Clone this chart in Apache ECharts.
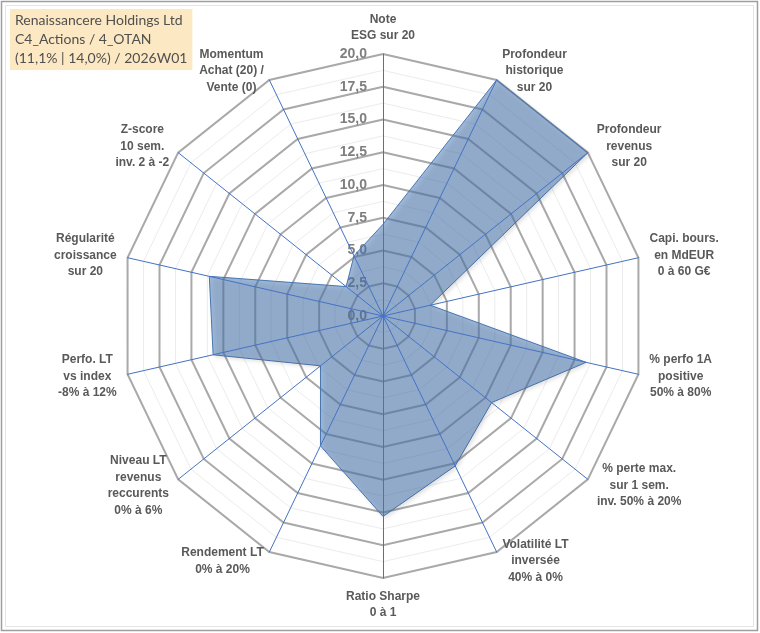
<!DOCTYPE html>
<html>
<head>
<meta charset="utf-8">
<script src="https://cdn.jsdelivr.net/npm/echarts@6/dist/echarts.min.js"></script>
<style>
  html, body { margin: 0; padding: 0; background: #fff; }
  #chart { width: 760px; height: 633px; }
</style>
</head>
<body>
<div id="chart"></div>
<script>
// axes, clockwise from the top
const axisNames = [
  'Note\nESG sur 20',
  'Profondeur\nhistorique\nsur 20',
  'Profondeur\nrevenus\nsur 20',
  'Capi. bours.\nen MdEUR\n0 à 60 G€',
  '% perfo 1A\npositive\n50% à 80%',
  '% perte max.\nsur 1 sem.\ninv. 50% à 20%',
  'Volatilité LT\ninversée\n40% à 0%',
  'Ratio Sharpe\n0 à 1',
  'Rendement LT\n0% à 20%',
  'Niveau LT\nrevenus\nreccurents\n0% à 6%',
  'Perfo. LT\nvs index\n-8% à 12%',
  'Régularité\ncroissance\nsur 20',
  'Z-score\n10 sem.\ninv. 2 à -2',
  'Momentum\nAchat (20) /\nVente (0)'
];
const scores = [7.0, 20, 20, 3.7, 15.9, 10.6, 12.7, 15.3, 11.0, 6.1, 13.3, 13.6, 3.6, 5.1];
const scaleMax = 20;
const tickStep = 2.5;
const titleLines = ['Renaissancere Holdings Ltd', 'C4_Actions / 4_OTAN', '(11,1% | 14,0%) / 2026W01'];

const cx = 383, cy = 316, R = 262;
const nameFont = { fontFamily: 'Liberation Sans', fontWeight: 'bold', fontSize: 12, lineHeight: 16.5, color: '#595959' };

// echarts lays radar axes out counter-clockwise, so flip everything after the first
const order = [0].concat(axisNames.map((_, i) => i).slice(1).reverse());
const indicators = order.map((i) => ({ name: axisNames[i], min: 0, max: scaleMax }));
const values = order.map((i) => scores[i]);
const blankIndicators = order.map(() => ({ name: '', min: 0, max: scaleMax }));

// each axis name is a block as wide as its longest line, lines centred inside it
const ctx = document.createElement('canvas').getContext('2d');
ctx.font = 'bold 12px "Liberation Sans"';
const rich = {};
axisNames.forEach((name, i) => {
  const w = Math.max(...name.split('\n').map((l) => ctx.measureText(l).width));
  rich['w' + i] = Object.assign({ width: Math.ceil(w) + 2, align: 'center' }, nameFont);
});

const myChart = echarts.init(document.getElementById('chart'), null, { renderer: 'canvas' });

const baseRadar = {
  center: [cx, cy],
  radius: R,
  startAngle: 90,
  shape: 'polygon',
  splitArea: { show: false },
  axisTick: { show: false },
  axisLabel: { show: false }
};

myChart.setOption({
  animation: false,
  backgroundColor: '#fff',
  title: {
    text: titleLines.join('\n'),
    left: 10,
    top: 9,
    padding: [2, 5, 2, 5],
    backgroundColor: '#fce8c2',
    textStyle: {
      fontFamily: 'Lato',
      fontSize: 14,
      fontWeight: 'normal',
      color: '#505050',
      lineHeight: 19
    }
  },
  radar: [
    // light minor rings every 1.25
    Object.assign({}, baseRadar, {
      indicator: indicators,
      splitNumber: 16,
      axisName: Object.assign({
        formatter: (name) => {
          const idx = axisNames.indexOf(name);
          return name.split('\n').map((l) => '{w' + idx + '|' + l + '}').join('\n');
        },
        rich: rich
      }, nameFont),
      nameGap: 10,
      axisLine: { show: false },
      splitLine: { lineStyle: { color: '#ececec', width: 1 } }
    }),
    // heavy major rings every 2.5
    Object.assign({}, baseRadar, {
      indicator: blankIndicators,
      splitNumber: 8,
      axisName: { show: false },
      axisLine: { show: false },
      splitLine: { lineStyle: { color: '#a9a9a9', width: 2 } }
    }),
    // blue spokes above the filled area
    Object.assign({}, baseRadar, {
      z: 5,
      indicator: blankIndicators,
      splitNumber: 8,
      axisName: { show: false },
      axisLine: { lineStyle: { color: '#4472c4', width: 1 } },
      splitLine: { show: false }
    })
  ],
  grid: {
    left: cx,
    top: cy - R,
    width: 1,
    height: R
  },
  xAxis: { type: 'value', show: false },
  yAxis: {
    type: 'value',
    min: 0,
    max: scaleMax,
    interval: tickStep,
    axisLine: { show: false },
    axisTick: { show: false },
    splitLine: { show: false },
    axisLabel: {
      margin: 16,
      color: '#7f7f7f',
      fontFamily: 'Liberation Sans',
      fontWeight: 'bold',
      fontSize: 14,
      formatter: (v) => v.toFixed(1).replace('.', ',')
    }
  },
  series: [{
    type: 'radar',
    radarIndex: 0,
    z: 3,
    symbol: 'none',
    lineStyle: { color: '#4a78b4', width: 1 },
    areaStyle: {
      color: 'rgba(76,124,184,0.75)',
      shadowColor: 'rgba(0,0,0,0.25)',
      shadowBlur: 4,
      shadowOffsetX: 2,
      shadowOffsetY: 2
    },
    data: [{ value: values, name: titleLines[0] }]
  }],
  graphic: [
    { type: 'rect', shape: { x: 1.5, y: 1.5, width: 756, height: 629 }, style: { fill: 'none', stroke: '#9e9e9e', lineWidth: 1.5 }, silent: true },
    { type: 'rect', shape: { x: 5.5, y: 5.5, width: 748, height: 621 }, style: { fill: 'none', stroke: '#e4e4e4', lineWidth: 1 }, silent: true }
  ]
});

window.addEventListener('resize', () => myChart.resize());
</script>
</body>
</html>
